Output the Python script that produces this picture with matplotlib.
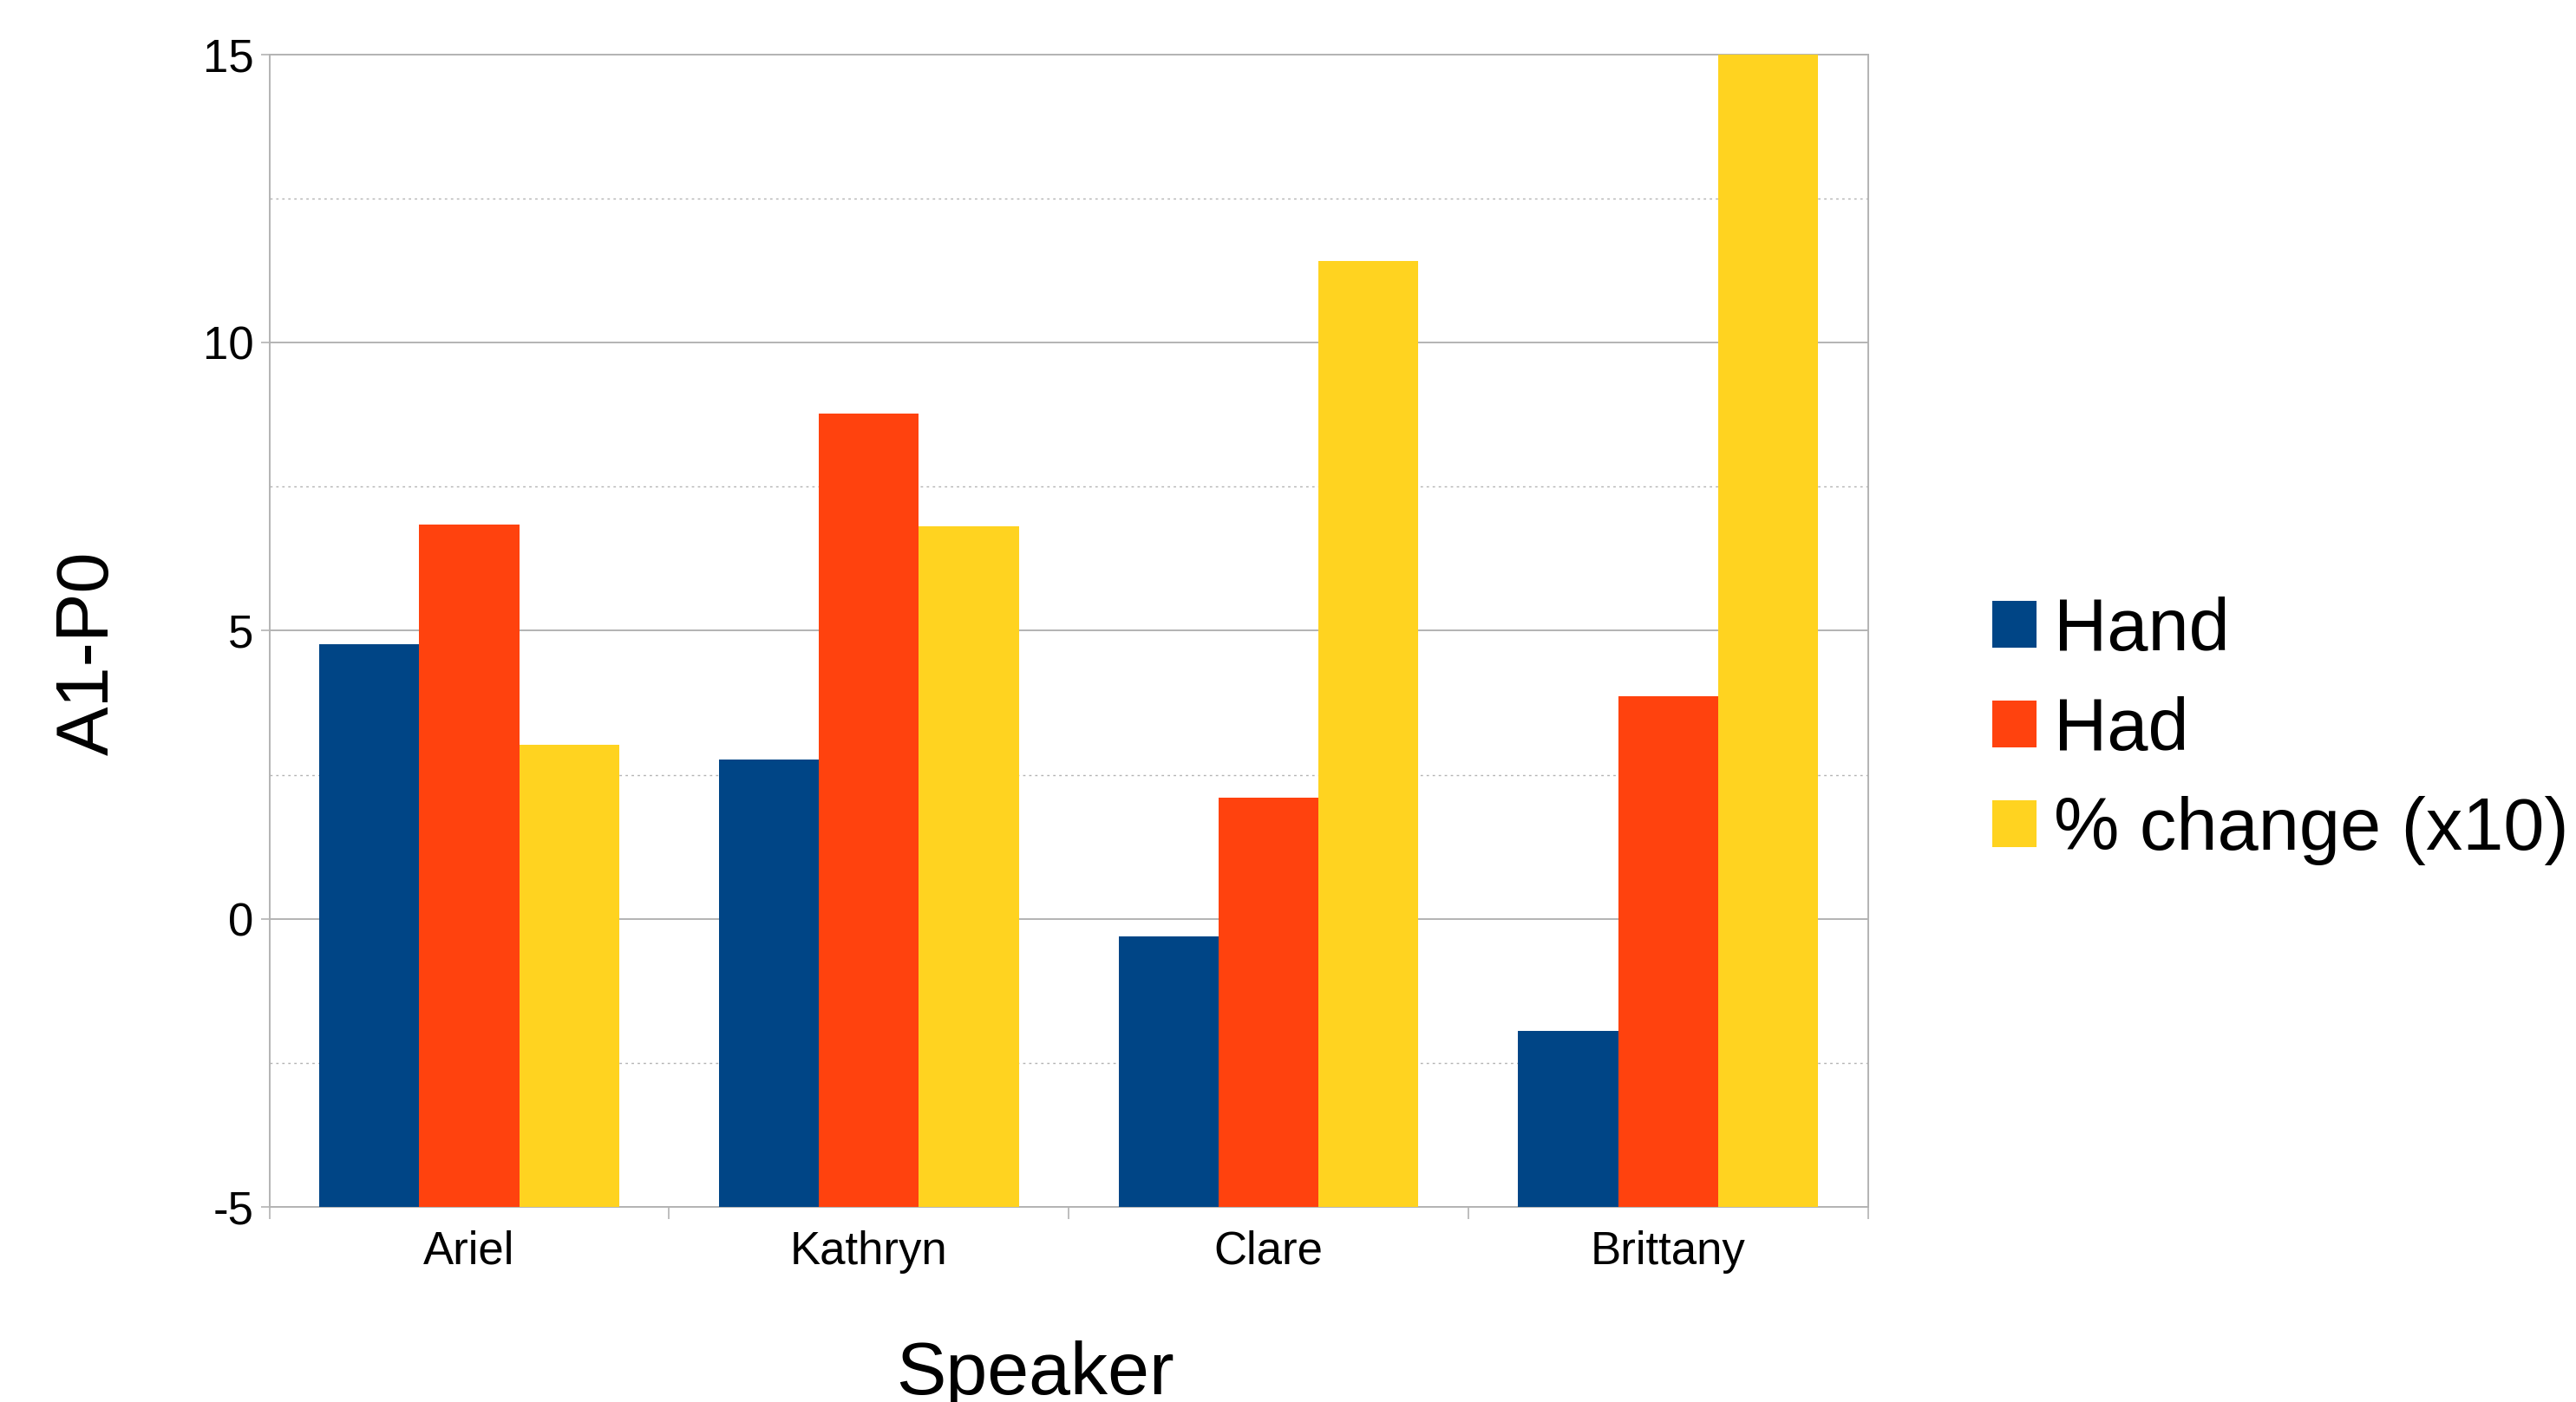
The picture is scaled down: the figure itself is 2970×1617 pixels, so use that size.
import numpy as np
import matplotlib.pyplot as plt
from matplotlib.ticker import MultipleLocator, FixedLocator

plt.rcParams['font.family'] = ['Liberation Sans', 'DejaVu Sans']
plt.rcParams['axes.unicode_minus'] = False

# A1-P0 per speaker, bars rise from the bottom of the axis (-5)
speakers = ['Ariel', 'Kathryn', 'Clare', 'Brittany']
hand = [4.76, 2.76, -0.31, -1.94]
had = [6.84, 8.77, 2.11, 3.87]
pct_change_x10 = [3.02, 6.81, 11.42, 15.0]

series = [('Hand', hand, '#004586'),
          ('Had', had, '#ff420e'),
          ('% change (x10)', pct_change_x10, '#ffd320')]

ymin, ymax = -5, 15
grid_col = '#b3b3b3'

fig = plt.figure(figsize=(29.7, 16.17), dpi=100)
ax = fig.add_axes([0.1046, 0.139, 0.6205, 0.8223])

x = np.arange(len(speakers))
w = 0.25
for k, (name, vals, col) in enumerate(series):
    vals = np.array(vals)
    ax.bar(x + (k - 1) * w, vals - ymin, bottom=ymin, width=w,
           color=col, label=name, zorder=3, linewidth=0)

ax.set_xlim(-0.5, len(speakers) - 0.5)
ax.set_ylim(ymin, ymax)

# grid: solid majors, dotted minors
ax.yaxis.set_major_locator(MultipleLocator(5))
ax.yaxis.set_minor_locator(MultipleLocator(2.5))
ax.grid(axis='y', which='major', color=grid_col, linewidth=1.4, zorder=0)
ax.grid(axis='y', which='minor', color=grid_col, linewidth=1.0,
        linestyle=(0, (2, 3)), zorder=0)
ax.tick_params(axis='y', which='minor', length=0)
ax.tick_params(axis='y', which='major', length=7, width=1.2, color=grid_col,
               labelsize=38, pad=6)

ax.set_xticks(x)
ax.set_xticklabels(speakers)
ax.xaxis.set_minor_locator(FixedLocator(np.arange(-0.5, len(speakers), 1.0)))
ax.tick_params(axis='x', which='major', length=0, labelsize=38, pad=19)
ax.tick_params(axis='x', which='minor', length=10, width=1.2, color=grid_col)

for s in ax.spines.values():
    s.set_color(grid_col)
    s.set_linewidth(1.4)

fig.text(0.0345, 0.534, 'A1-P0', rotation=90, fontsize=61,
         ha='center', va='center')
fig.text(0.402, 0.019, 'Speaker', fontsize=62, ha='center', va='center')

fig.legend(loc='center left', bbox_to_anchor=(0.7735, 0.4788), frameon=False,
           fontsize=61, handlelength=0.6, handleheight=0.6,
           handletextpad=0.24, labelspacing=0.41, borderaxespad=0,
           borderpad=0)

fig.savefig('out.png', dpi=100)
